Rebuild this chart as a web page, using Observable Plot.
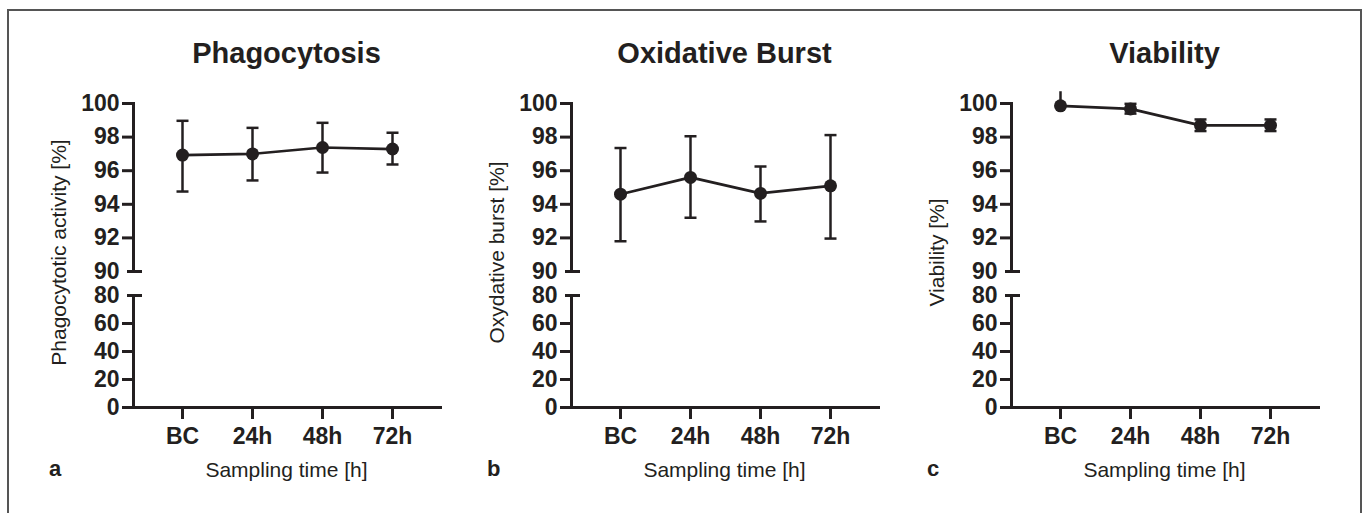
<!DOCTYPE html>
<html><head><meta charset="utf-8">
<script src="https://cdn.jsdelivr.net/npm/d3@7"></script>
<script src="https://cdn.jsdelivr.net/npm/@observablehq/plot@0.6"></script>
<style>
html,body{margin:0;padding:0;background:#fff;}
body{width:1365px;height:513px;overflow:hidden;position:relative;font-family:"Liberation Sans",Arial,Helvetica,sans-serif;color:#231f20;}
#border{position:absolute;left:7px;top:9px;width:1355px;height:600px;border:2px solid #555555;box-sizing:border-box;}
.abs{position:absolute;white-space:nowrap;}
</style></head><body>
<div id="border"></div>
<script>
// ---- data ----
const times = ["BC", "24h", "48h", "72h"];
const panelTitles = ["Phagocytosis", "Oxidative Burst", "Viability"];
const yLabels = ["Phagocytotic activity [%]", "Oxydative burst [%]", "Viability [%]"];
const panelLetters = ["a", "b", "c"];
const xLabel = "Sampling time [h]";

const phagoMean = [96.93, 97.00, 97.38, 97.29];
const phagoLo   = [94.76, 95.42, 95.89, 96.37];
const phagoHi   = [98.97, 98.55, 98.85, 98.26];

const burstMean = [94.60, 95.60, 94.65, 95.10];
const burstLo   = [91.80, 93.20, 92.98, 91.96];
const burstHi   = [97.35, 98.05, 96.25, 98.12];

const viaMean = [99.86, 99.68, 98.70, 98.70];
const viaLo   = [99.86, 99.40, 98.36, 98.36];
const viaHi   = [100.70, 99.98, 99.05, 99.05];

const upperTicks = [90, 92, 94, 96, 98, 100];
const lowerTicks = [0, 20, 40, 60, 80];
const upperDomain = [90, 100];
const lowerDomain = [0, 80];

// ---- drawing ----
const INK = "#231f20";
const FONT = '"Liberation Sans", Arial, Helvetica, sans-serif';
const series = [
  [phagoMean, phagoLo, phagoHi],
  [burstMean, burstLo, burstHi],
  [viaMean, viaLo, viaHi]
];
const axisXs = [133, 571, 1011];
const mL = 70, mR = 20, plotW = 307, W = mL + plotW + mR;
const yTop = 103, upperH = 168, yLowTop = 294.5, lowerH = 112;

const capSymbol = {draw(ctx, size) { const w = Math.sqrt(size / Math.PI); ctx.moveTo(-w, 0); ctx.lineTo(w, 0); }};
const svgStyle = {background: "transparent", overflow: "visible", fontFamily: FONT, fontSize: "23px", color: INK};
const xOpt = {type: "point", domain: times, padding: 0.667};
const tickOpts = {tickSize: 11, tickPadding: 3, fontWeight: "bold", fontSize: 23, strokeWidth: 3, label: null};

function addDiv(text, css) {
  const d = document.createElement("div");
  d.className = "abs";
  d.textContent = text;
  Object.assign(d.style, css);
  document.body.appendChild(d);
  return d;
}

series.forEach(([mean, lo, hi], i) => {
  const ax = axisXs[i];
  const rows = times.map((t, j) => ({t, mean: mean[j], lo: lo[j], hi: hi[j]}));

  const upper = Plot.plot({
    width: W, height: 20 + upperH + 10,
    marginTop: 20, marginBottom: 10, marginLeft: mL, marginRight: mR,
    style: svgStyle,
    x: {...xOpt, axis: null},
    y: {domain: upperDomain},
    marks: [
      Plot.frame({anchor: "left", stroke: INK, strokeWidth: 3, strokeLinecap: "square"}),
      Plot.axisY(upperTicks.filter(v => v > upperDomain[0]), tickOpts),
      Plot.axisY([upperDomain[0]], {...tickOpts, tickSize: 6, tickPadding: 8}),
      Plot.axisY([upperDomain[0]], {tickSize: 9, dx: 9, tickFormat: () => "", strokeWidth: 3, label: null}),
      Plot.ruleX(rows, {x: "t", y1: "lo", y2: "hi", stroke: INK, strokeWidth: 2.5}),
      Plot.dot(rows.filter(d => d.hi <= upperDomain[1]), {x: "t", y: "hi", symbol: capSymbol, r: 6, fill: "none", stroke: INK, strokeWidth: 2.5}),
      Plot.dot(rows.filter(d => d.lo < d.mean), {x: "t", y: "lo", symbol: capSymbol, r: 6, fill: "none", stroke: INK, strokeWidth: 2.5}),
      Plot.line(rows, {x: "t", y: "mean", stroke: INK, strokeWidth: 2.7}),
      Plot.dot(rows, {x: "t", y: "mean", r: 6.5, fill: INK, stroke: "none"})
    ]
  });
  Object.assign(upper.style, {position: "absolute", left: (ax - mL) + "px", top: (yTop - 20) + "px"});
  document.body.appendChild(upper);

  const lower = Plot.plot({
    width: W, height: 10 + lowerH + 50,
    marginTop: 10, marginBottom: 50, marginLeft: mL, marginRight: mR,
    style: svgStyle,
    x: xOpt,
    y: {domain: lowerDomain},
    marks: [
      Plot.frame({anchor: "left", stroke: INK, strokeWidth: 3, strokeLinecap: "square"}),
      Plot.frame({anchor: "bottom", stroke: INK, strokeWidth: 3, strokeLinecap: "square"}),
      Plot.axisY(lowerTicks.filter(v => v < lowerDomain[1]), tickOpts),
      Plot.axisY([lowerDomain[1]], {...tickOpts, tickSize: 6, tickPadding: 8}),
      Plot.axisY([lowerDomain[1]], {tickSize: 9, dx: 9, tickFormat: () => "", strokeWidth: 3, label: null}),
      Plot.axisX(times, {tickSize: 12, tickPadding: 8, fontWeight: "bold", fontSize: 23, strokeWidth: 3, label: null})
    ]
  });
  Object.assign(lower.style, {position: "absolute", left: (ax - mL) + "px", top: (yLowTop - 10) + "px"});
  document.body.appendChild(lower);

  const cx = ax + plotW / 2;
  addDiv(panelTitles[i], {left: (cx - 200) + "px", width: "400px", textAlign: "center", top: "38.5px",
    fontSize: "29px", lineHeight: "29px", fontWeight: "bold"});
  addDiv(xLabel, {left: (cx - 200) + "px", width: "400px", textAlign: "center", top: "459px",
    fontSize: "21px", lineHeight: "21px"});
  addDiv(panelLetters[i], {left: (ax - 84) + "px", top: "458px", fontSize: "22px", lineHeight: "22px", fontWeight: "bold"});
  const lx = ax - 75, ly = 252;
  addDiv(yLabels[i], {left: (lx - 200) + "px", width: "400px", textAlign: "center", top: (ly - 10.5) + "px",
    fontSize: "21px", lineHeight: "21px", transform: "rotate(-90deg)"});
});
</script>
</body></html>
